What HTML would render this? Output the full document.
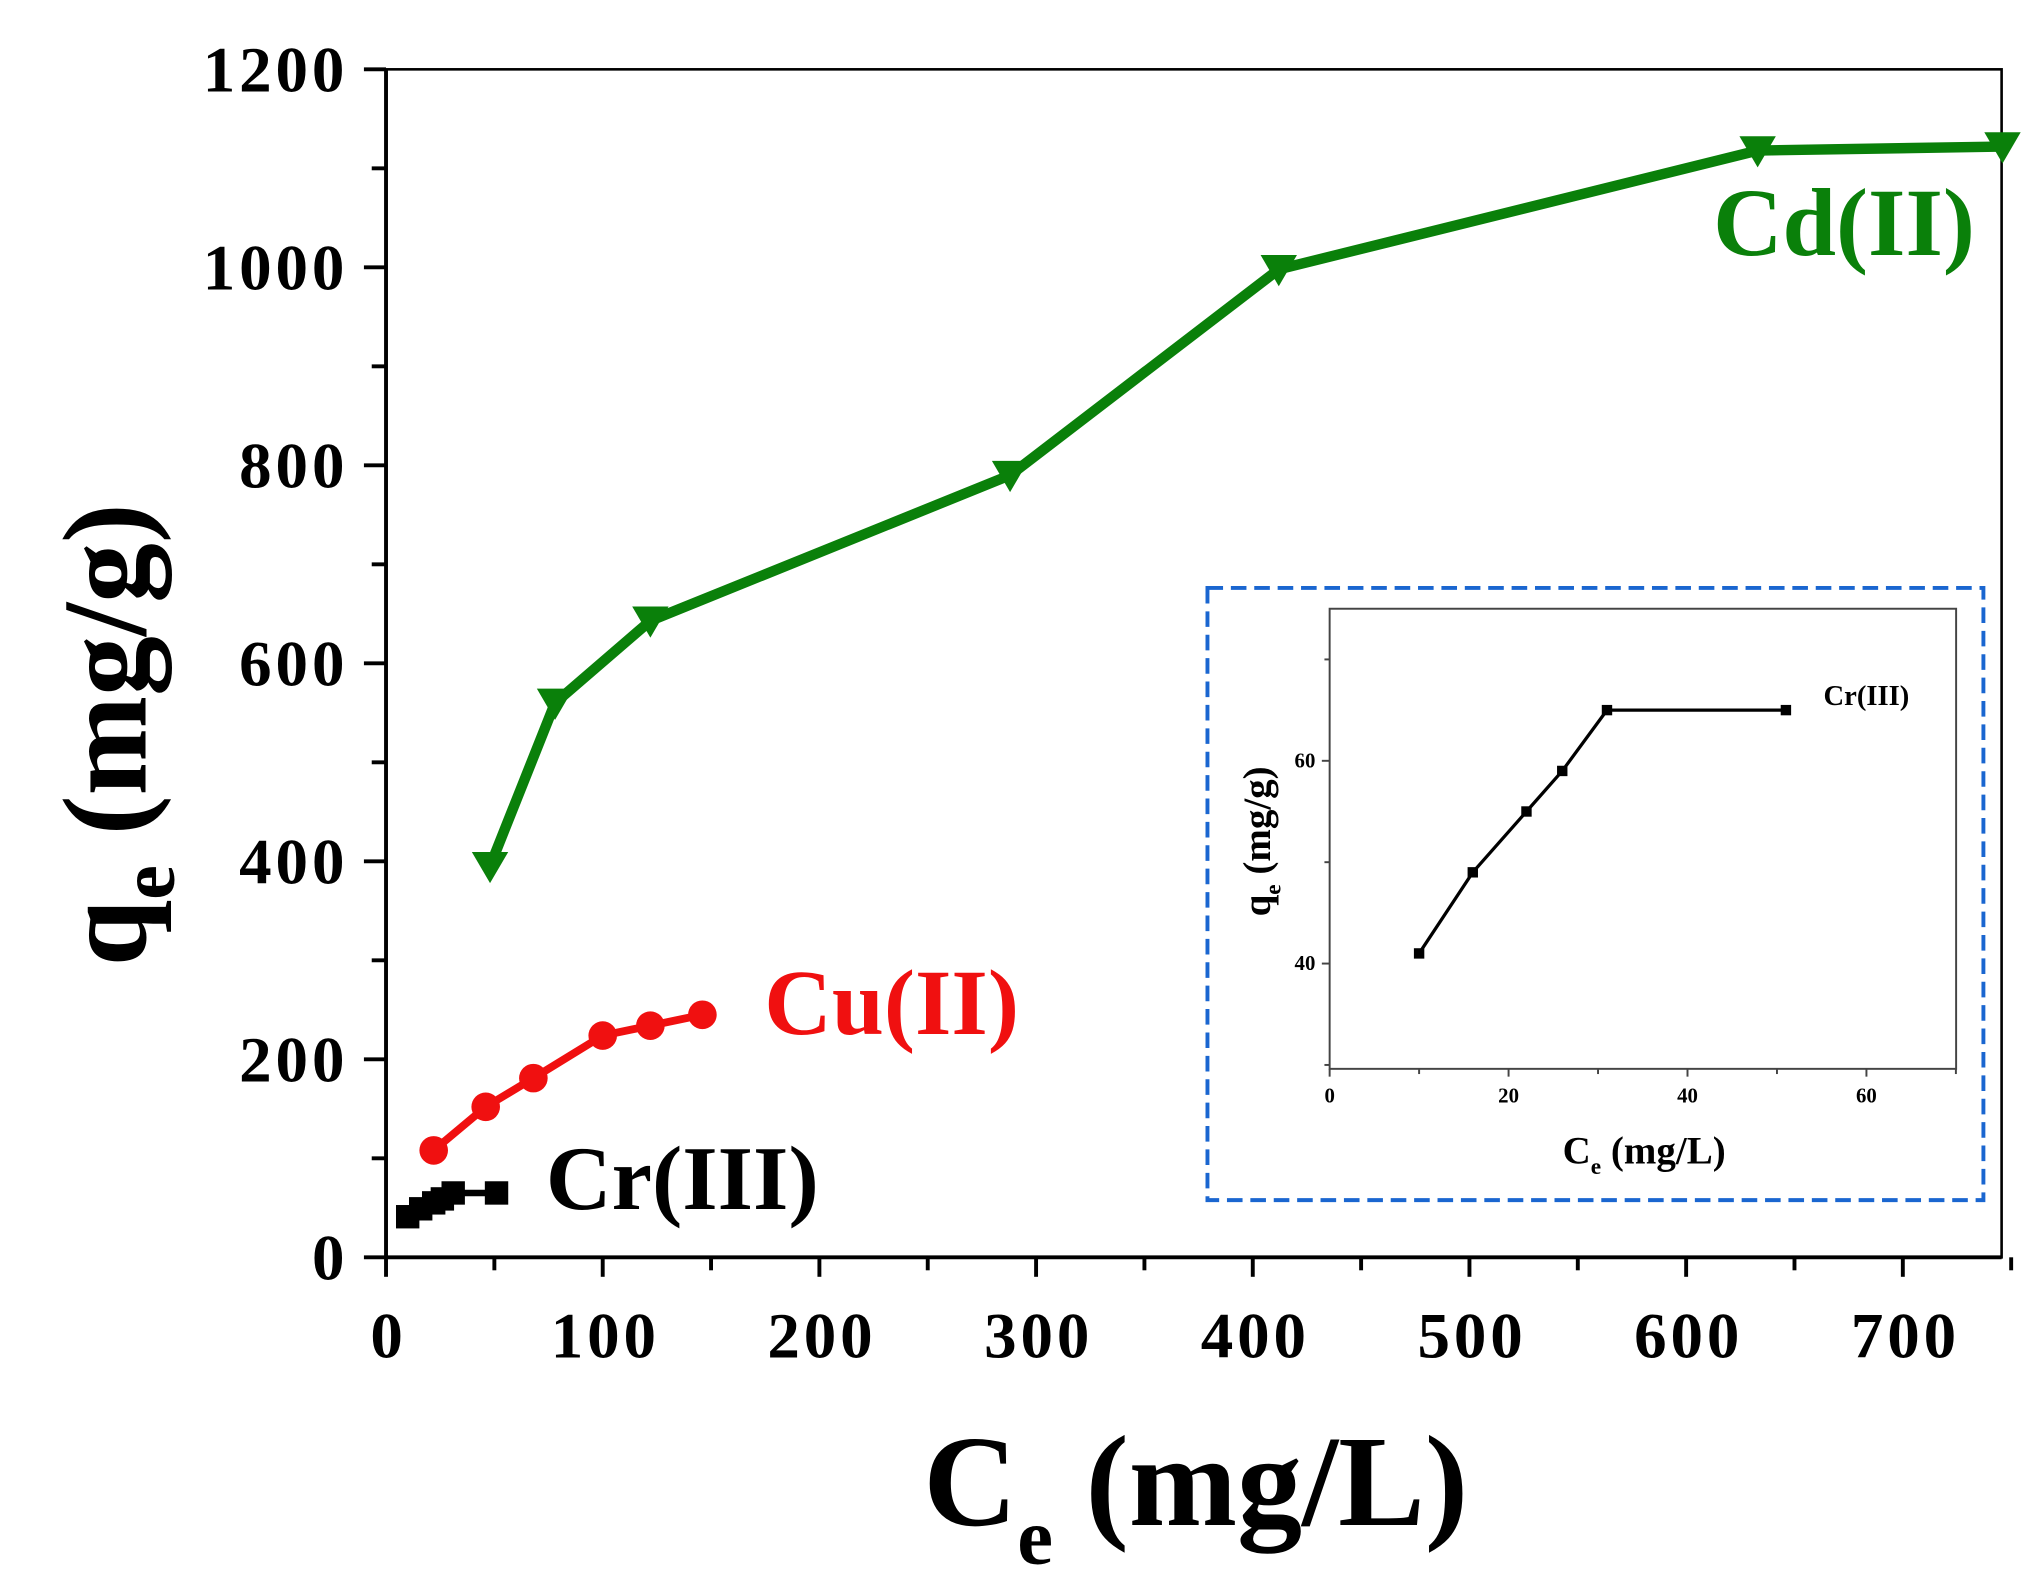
<!DOCTYPE html>
<html><head><meta charset="utf-8"><style>html,body{margin:0;padding:0;background:#fff}svg{display:block}</style></head>
<body>
<svg id="chart" xmlns="http://www.w3.org/2000/svg" width="2038" height="1584" viewBox="0 0 1568 1208" font-family="'Liberation Serif', serif" font-weight="bold">
<rect width="1568" height="1208" fill="#fff"/>
<g id="main"></g>
<g id="inset"></g>
</svg>
<script>
const NS="http://www.w3.org/2000/svg";
const cdX=[48,78,122,288,412,633,746];
const cdY=[395,560,643,790,998,1118,1122];
const cuX=[22,46,68,100,122,146];
const cuY=[108,152,181,224,234,245];
const crX=[10,16,22,26,31,51];
const crY=[41,49,55,59,65,65];
const xTicks=[0,100,200,300,400,500,600,700];
const yTicks=[0,200,400,600,800,1000,1200];
const inXTicks=[0,20,40,60];
const inYTicks=[40,60];

function mk(tag,attrs,parent,text){const e=document.createElementNS(NS,tag);for(const k in attrs)e.setAttribute(k,attrs[k]);if(text!==undefined)e.textContent=text;parent.appendChild(e);return e;}
const main=document.getElementById('main');
const L=297,R=1540,T=48,B=962;
const X=v=>L+v*(1464-297)/700;
const Y=v=>B-v*(B-T)/1200;

let f=mk('rect',{x:L,y:T,width:R-L,height:B-T,fill:'none',stroke:'#000','stroke-width':2},main);

mk('line',{x1:L,y1:T,x2:L,y2:B,stroke:'#000','stroke-width':3},main);
mk('line',{x1:L,y1:B,x2:R,y2:B,stroke:'#000','stroke-width':3},main);
for(let v=0;v<=1200;v+=100){mk('line',{x1:L,y1:Y(v),x2:L-(v%200?11:17),y2:Y(v),stroke:'#000','stroke-width':3},main);}
for(let v=0;v<=750;v+=50){mk('line',{x1:X(v),y1:B,x2:X(v),y2:B+(v%100?10:15),stroke:'#000','stroke-width':3},main);}
yTicks.forEach(v=>{const t=mk('text',{x:268,y:Y(v)+17,'text-anchor':'end','font-size':50,'letter-spacing':3},main,v);
});
xTicks.forEach(v=>{const t=mk('text',{x:X(v)+2,y:1039,'text-anchor':'middle','font-size':50,'letter-spacing':3},main,v);
});
let yt=mk('text',{transform:'translate(112,560) rotate(-90)','text-anchor':'middle','font-size':92},main);

yt.innerHTML='q<tspan font-size="60" dy="22">e</tspan><tspan dy="-22"> (mg/g)</tspan>';
let xt=mk('text',{x:920,y:1168,'text-anchor':'middle','font-size':100},main);

xt.innerHTML='C<tspan font-size="62" dy="30">e</tspan><tspan dy="-30"> (mg/L)</tspan>';

function series(xs,ys,Xf,Yf,color,w,name,parent){
  const pts=xs.map((x,i)=>Xf(x)+','+Yf(ys[i])).join(' ');
  const p=mk('polyline',{points:pts,fill:'none',stroke:color,'stroke-width':w,'stroke-linejoin':'round'},parent);
  
  return xs.map((x,i)=>[Xf(x),Yf(ys[i])]);
}
const cd=series(cdX,cdY,X,Y,'#0a800a',8,'cd',main);
cd.forEach(([x,y])=>{const m=mk('polygon',{points:`${x-14},${y-11} ${x+14},${y-11} ${x},${y+13}`,fill:'#0a800a'},main);
});
const cu=series(cuX,cuY,X,Y,'#f01010',6,'cu',main);
cu.forEach(([x,y])=>{const m=mk('circle',{cx:x,cy:y,r:11,fill:'#f01010'},main);
});
const cr=series(crX,crY,X,Y,'#000',5,'cr',main);
cr.forEach(([x,y])=>{const m=mk('rect',{x:x-9,y:y-9,width:18,height:18,fill:'#000'},main);
});
let l1=mk('text',{x:1318,y:191,'font-size':74,fill:'#0a800a'},main,'Cd(II)');
let l2=mk('text',{x:588,y:790,'font-size':72,fill:'#f01010'},main,'Cu(II)');
let l3=mk('text',{x:420,y:925,'font-size':70,fill:'#000'},main,'Cr(III)');

const ins=document.getElementById('inset');
let box=mk('rect',{x:929,y:447,width:597,height:471,fill:'#fff',stroke:'#1a66d0','stroke-width':3,'stroke-dasharray':'12,6'},ins);

const iL=1023,iR=1505,iT=463,iB=817;
const IX=v=>iL+v*(1437-1024)/60;
const IY=v=>736-(v-40)*(736-580)/20;
mk('rect',{x:iL,y:iT,width:iR-iL,height:iB-iT,fill:'none',stroke:'#444','stroke-width':1.5},ins);
for(let v=0;v<=70;v+=10)mk('line',{x1:IX(v),y1:iB,x2:IX(v),y2:iB+(v%20?4:6),stroke:'#444','stroke-width':1.5},ins);
for(let v=30;v<=75;v+=10)mk('line',{x1:iL,y1:IY(v),x2:iL-(v%20?4:6),y2:IY(v),stroke:'#444','stroke-width':1.5},ins);
inXTicks.forEach(v=>{const t=mk('text',{x:IX(v),y:843,'text-anchor':'middle','font-size':16},ins,v);});
inYTicks.forEach(v=>{const t=mk('text',{x:1012,y:IY(v)+5,'text-anchor':'end','font-size':16},ins,v);});
const ic=series(crX,crY,IX,IY,'#000',2.5,'inset-cr',ins);
ic.forEach(([x,y])=>{const m=mk('rect',{x:x-4,y:y-4,width:8,height:8,fill:'#000'},ins);});
let il=mk('text',{x:1403,y:537,'font-size':22},ins,'Cr(III)');
let ixt=mk('text',{x:1265,y:890,'text-anchor':'middle','font-size':30},ins);

ixt.innerHTML='C<tspan font-size="18" dy="8">e</tspan><tspan dy="-8"> (mg/L)</tspan>';
let iyt=mk('text',{transform:'translate(977,642) rotate(-90)','text-anchor':'middle','font-size':30},ins);

iyt.innerHTML='q<tspan font-size="18" dy="8">e</tspan><tspan dy="-8"> (mg/g)</tspan>';
</script>
</body></html>
